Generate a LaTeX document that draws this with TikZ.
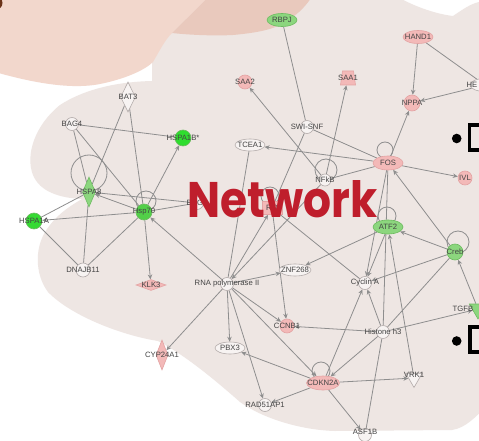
\documentclass[tikz,border=0pt]{standalone}
\usepackage{fontspec}
\usepackage{graphicx}
\setmainfont{Liberation Sans}
\newfontfamily\titlefont{Poppins}
\usetikzlibrary{shapes.geometric,arrows.meta}

\definecolor{blobgray}{HTML}{EEE6E3}
\definecolor{peachlt}{HTML}{F2D7CC}
\definecolor{peachdk}{HTML}{E9C9BD}
\definecolor{edgegray}{HTML}{8E8E8E}
\definecolor{nodeline}{HTML}{B3ABAA}
\definecolor{plainfill}{HTML}{F7F3F2}
\definecolor{pinkfill}{HTML}{F3B9B8}
\definecolor{pinkline}{HTML}{E3A3A3}
\definecolor{greenhi}{HTML}{2EDD2E}
\definecolor{greenmid}{HTML}{52CF48}
\definecolor{greenlt}{HTML}{8CD67E}
\definecolor{greenline}{HTML}{6DBB60}
\definecolor{titlered}{HTML}{BF1E2C}
\definecolor{labelgray}{HTML}{444444}

\pgfdeclarelayer{backdrop}
\pgfdeclarelayer{links}
\pgfsetlayers{backdrop,links,main}

\tikzset{
  base/.style={line width=0.6pt, inner sep=0pt},
  plain/.style={base, draw=nodeline, fill=plainfill},
  pinkn/.style={base, draw=pinkline, fill=pinkfill},
  greenn/.style={base, draw=greenline, fill=greenlt},
  brightn/.style={base, draw=greenline, fill=greenhi},
  midn/.style={base, draw=greenline, fill=greenmid},
  circ/.style={circle, minimum size=#1},
  circ/.default=13pt,
  oval/.style={ellipse, minimum width=30pt, minimum height=13pt},
  vdiam/.style={diamond, minimum width=13pt, minimum height=30pt},
  hdiam/.style={diamond, minimum width=30pt, minimum height=11pt},
  vtri/.style={regular polygon, regular polygon sides=3, shape border rotate=180, minimum size=20pt},
  labeltext/.style={font=\fontsize{7.7}{8}\selectfont, text=labelgray, inner sep=0pt},
  every label/.style={labeltext},
  edge/.style={draw=edgegray, line width=0.8pt},
  arr/.style={edge, -{Stealth[length=5pt,width=4.5pt]}},
  selfloop/.style={draw=edgegray, line width=0.8pt},
}

\begin{document}
\begin{tikzpicture}[x=1pt,y=-1pt]
\useasboundingbox (0,0) rectangle (479,441);
\clip (0,0) rectangle (479,441);

% backdrop: grey cloud, peach lobes, margin bullets
\begin{pgfonlayer}{backdrop}
\fill[white] (0,0) rectangle (479,441);
\fill[blobgray]
  (152,81) -- (152,-5) -- (395,-5)
  .. controls (410,5) and (435,14) .. (453,16)
  .. controls (462,10) and (470,4) .. (479,2)
  -- (485,2) -- (485,408)
  .. controls (476,416) and (466,428) .. (452,430)
  -- (335,431)
  .. controls (300,430) and (262,418) .. (240,402)
  .. controls (215,380) and (185,355) .. (158,341)
  .. controls (120,335) and (70,315) .. (48,292)
  .. controls (35,275) and (33,245) .. (50,225)
  .. controls (60,212) and (72,205) .. (82,199)
  .. controls (60,198) and (40,192) .. (33,175)
  .. controls (25,155) and (35,125) .. (60,105)
  .. controls (80,92) and (110,82) .. (152,81) -- cycle;
\fill[peachlt] (-5,-5) -- (-5,72)
  .. controls (30,82) and (70,90) .. (100,84)
  .. controls (125,79) and (145,70) .. (153,62)
  .. controls (160,50) and (165,40) .. (172,33)
  .. controls (185,20) and (198,8) .. (210,-5) -- cycle;
\fill[peachdk] (210,-5)
  .. controls (198,8) and (185,20) .. (172,33)
  .. controls (190,35) and (215,36) .. (233,35)
  .. controls (255,33) and (270,30) .. (280,25)
  .. controls (295,17) and (305,8) .. (313,-5) -- cycle;
\fill[black!80!red!60!brown] (-4,3) circle[radius=6.5];
\fill[black] (456.7,138.5) circle[radius=4.8];
\draw[line width=3.6pt] (482,125) -- (469.5,125) -- (469.5,150) -- (482,150);
\fill[black] (456.7,341) circle[radius=4.8];
\draw[line width=3.8pt] (482,327) -- (470.3,327) -- (470.3,352.3) -- (482,352.3);
\end{pgfonlayer}

% molecules
\node[greenn, oval, label={center:RBPJ}] (rbpj) at (282,20) {};
\node[pinkn, oval, label={center:HAND1}] (hand1) at (418,37) {};
\node[plain, oval, label={[anchor=west,xshift=-13pt]center:HE}] (he) at (485,85) {};
\node[pinkn, circ=14pt, label={center:SAA2}] (saa2) at (245,82) {};
\node[base, rectangle, minimum width=15pt, minimum height=14pt] (saa1) at (348,78) {};
\node[pinkn, circ=16pt, label={center:NPPA}] (nppa) at (412,103) {};
\node[plain, circ, label={center:SWI-SNF}] (swisnf) at (307,127) {};
\node[plain, oval, minimum height=12pt, label={center:TCEA1}] (tcea1) at (250,145) {};
\node[pinkn, oval, minimum height=14pt, label={center:FOS}] (fos) at (388,163) {};
\node[plain, circ=12pt, label={center:NFkB}] (nfkb) at (325,180) {};
\node[pinkn, circ=14pt, label={center:IVL}] (ivl) at (465,178) {};
\node[greenn, oval, minimum height=14pt, label={center:ATF2}] (atf2) at (388,227) {};
\node[greenn, circ=16pt, label={center:Creb}] (creb) at (455,252) {};
\node[plain, oval, minimum width=32pt, minimum height=12pt, label={center:ZNF268}] (znf) at (295,270) {};
\node[plain, circ, label={center:Cyclin A}] (cyca) at (365,283) {};
\node[greenn, vtri, label={[anchor=west,xshift=-15pt]center:TGFB}] (tgfb) at (478,309) {};
\node[plain, circ, label={center:Histone h3}] (hist) at (383,332) {};
\node[pinkn, circ=14pt, label={center:CCNB1}] (ccnb1) at (287,326) {};
\node[pinkn, oval, minimum width=33pt, minimum height=14pt, label={center:CDKN2A}] (cdkn) at (323,383) {};
\node[plain, vtri, minimum size=19pt, label={[yshift=3pt]center:VRK1}] (vrk1) at (414,378) {};
\node[plain, circ, label={center:RAD51AP1}] (rad51) at (265,405) {};
\node[plain, circ, label={[yshift=3pt]center:ASF1B}] (asf1b) at (365,435) {};
\node[plain, oval, minimum height=12pt, label={center:PBX3}] (pbx3) at (230,348) {};
\node[pinkn, vdiam, minimum width=12pt, label={center:CYP24A1}] (cyp) at (162,355) {};
\node[plain, circ, label={center:RNA polymerase II}] (rnap) at (227,284) {};
\node[pinkn, hdiam, label={center:KLK3}] (klk3) at (151,285) {};
\node[plain, circ=14pt, label={center:DNAJB11}] (dnaj) at (83,270) {};
\node[midn, fill=greenhi!80!greenmid, circ=16pt, label={center:HSPA1A}] (hspa1a) at (34,221) {};
\node[greenn, vdiam, label={center:HSPA8}] (hspa8) at (89,192) {};
\node[midn, circ=16pt, label={center:Hsp70}] (hsp70) at (144,212) {};
\node[plain, circ, label={center:BAG3}] (bag3) at (197,203) {};
\node[plain, circ, label={center:BAG4}] (bag4) at (72,124) {};
\node[plain, vdiam, minimum width=15pt, label={center:BAT3}] (bat3) at (128,97) {};
\node[brightn, circ=16pt, label={center:HSPA1B*}] (hspa1b) at (183,138) {};
\node[pinkn, rectangle, minimum width=20pt, minimum height=13pt, label={center:RO}] (ro) at (272,208) {};

% relationships, drawn beneath the molecules
\begin{pgfonlayer}{links}
\draw[edge] (rbpj) -- (swisnf);
\draw[edge] (swisnf) -- (fos);
\draw[edge] (swisnf) -- (ro);
\draw[arr] (nfkb) -- (saa2);
\draw[arr] (nfkb) -- (saa1);
\draw[arr] (hand1) -- (nppa);
\draw[edge] (hand1) -- (he);
\draw[arr] (he) -- (nppa);
\draw[arr] (fos) -- (nppa);
\draw[arr] (fos) -- (tcea1);
\draw[arr] (fos) -- (ivl);
\draw[edge] (fos) -- (nfkb);
\draw[arr] (nfkb) -- (rnap);
\draw[edge] (tcea1) -- (rnap);
\draw[arr] (rnap) -- (ro);
\draw[arr] (ro) -- (ccnb1);
\draw[edge] (ro) -- (cyca);
\draw[arr] (fos) -- (cyca);
\draw[edge] (fos) -- (hist);
\draw[arr] (creb) -- (fos);
\draw[arr] (atf2) -- (znf);
\draw[arr] (atf2) -- (cyca);
\draw[arr] (creb) -- (atf2);
\draw[arr] (creb) -- (cyca);
\draw[edge] (creb) -- (hist);
\draw[arr] (tgfb) -- (creb);
\draw[arr] (hist) -- (tgfb);
\draw[arr] (vrk1) -- (atf2);
\draw[arr] (hist) -- (ccnb1);
\draw[arr] (hist) -- (cyca);
\draw[arr] (hist) -- (cdkn);
\draw[edge] (hist) -- (asf1b);
\draw[arr] (cdkn) -- (cyca);
\draw[arr] (cdkn) -- (vrk1);
\draw[arr] (cdkn) -- (rad51);
\draw[arr] (cdkn) -- (asf1b);
\draw[arr] (cdkn) -- (pbx3);
\draw[arr] (rnap) -- (cdkn);
\draw[arr] (rnap) -- (rad51);
\draw[arr] (rnap) -- (ccnb1);
\draw[arr] (rnap) -- (znf);
\draw[arr] (rnap) -- (pbx3);
\draw[arr] (rnap) -- (cyp);
\draw[arr] (rnap) -- (hsp70);
\draw[arr] (hsp70) -- (klk3);
\draw[arr] (hsp70) -- (hspa1b);
\draw[arr] (hsp70) -- (hspa8);
\draw[arr] (hsp70) -- (hspa1a);
\draw[arr] (bag3) -- (hspa8);
\draw[edge] (bag3) -- (hsp70);
\draw[edge] (hspa8) -- (hspa1a);
\draw[edge] (hspa8) -- (dnaj);
\draw[edge] (hspa1a) -- (dnaj);
\draw[edge] (hsp70) -- (dnaj);
\draw[edge] (bat3) -- (hspa8);
\draw[edge] (bat3) -- (hsp70);
\draw[edge] (bag4) -- (hspa8);
\draw[edge] (bag4) -- (hsp70);
\draw[edge] (bag4) -- (hspa1b);
% self-regulation loops
\draw[selfloop] (hspa8) ++(0,-19) circle[radius=18];
\draw[selfloop] (hsp70) ++(2,-11) circle[radius=10];
\draw[selfloop] (fos) ++(-3,-13) circle[radius=8];
\draw[selfloop] (nfkb) ++(1,-10) circle[radius=11];
\draw[selfloop] (ro) ++(-2,-12) circle[radius=9];
\draw[selfloop] (atf2) ++(-1,-11) circle[radius=9];
\draw[selfloop] (creb) ++(3,-10) circle[radius=11];
\draw[selfloop] (cdkn) ++(-2,-12) circle[radius=9];
% SAA1 outline: a trapezium around its anchor node
\filldraw[draw=pinkline, fill=pinkfill, line width=0.6pt]
  (saa1.center) ++(-5.5,-7) -- ++(11,0) -- ++(2,14) -- ++(-15,0) -- cycle;
\end{pgfonlayer}

% SAA1 label above its outline
\node[labeltext] (saa1text) at (saa1) {SAA1};

% slide title
\node[anchor=south west, inner sep=0pt, text=titlered] (title) at (187,218.5)
  {\resizebox{190pt}{37pt}{\titlefont\bfseries Network}};
\end{tikzpicture}
\end{document}
